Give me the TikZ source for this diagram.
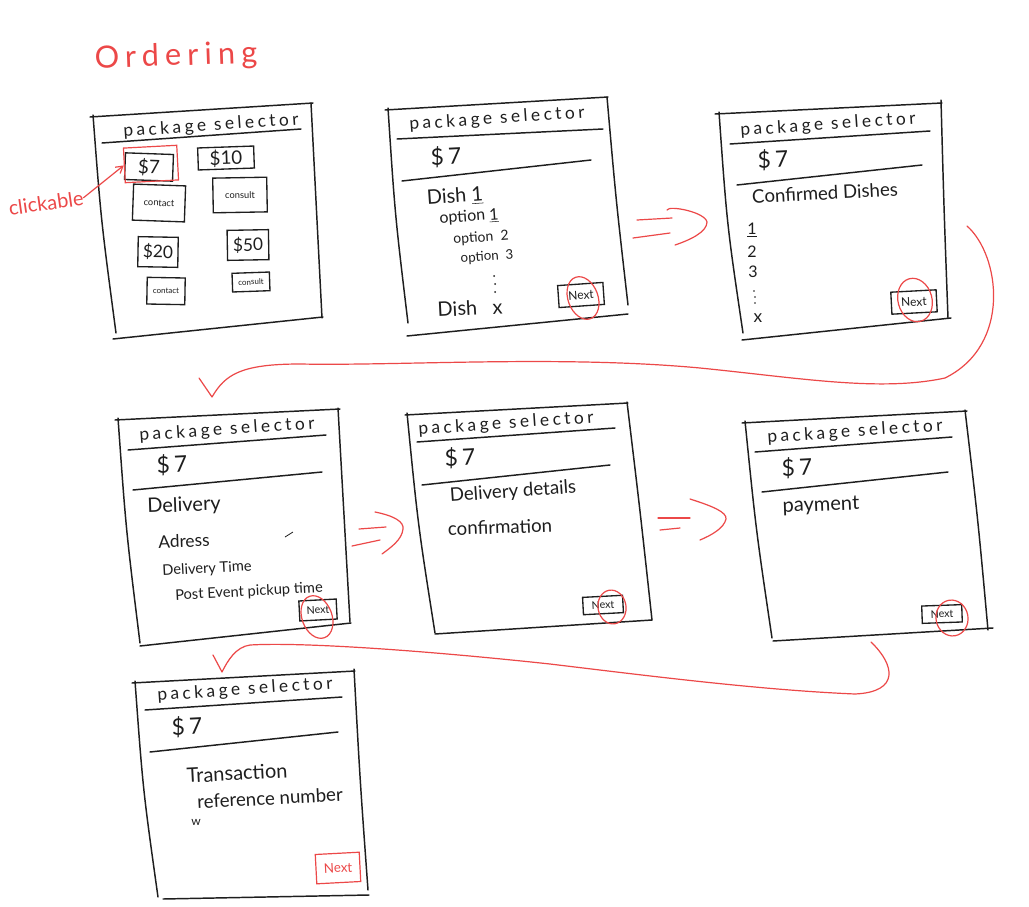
\documentclass[tikz,border=0pt]{standalone}
\usepackage{fontspec}
\setmainfont{Lato}
\newfontfamily\hand{Lato}
\newfontfamily\handsp[LetterSpace=20]{Lato}
\usetikzlibrary{arrows.meta}
\definecolor{hred}{RGB}{236,72,72}
\definecolor{ink}{RGB}{30,30,30}
\newcommand{\fs}[1]{\fontsize{#1}{#1}\selectfont}
\tikzset{
  pen/.style={draw=ink, line width=1.1pt, line cap=round, line join=round},
  rpen/.style={draw=hred, line width=0.9pt, line cap=round, line join=round},
  lbl/.style={inner sep=0pt, text=ink, font=\hand\fs{14}},
  hdr/.style={inner sep=0pt, text=ink, font=\handsp\fs{13}, rotate=4},
  price/.style={inner sep=0pt, text=ink, font=\handsp\fs{17}, rotate=3},
  btn/.style={draw=ink, line width=1pt, inner sep=0pt, text=ink},
  nextbtn/.style={btn, font=\hand\fs{9}},
  dotmark/.style={fill=ink},
}
\begin{document}
\begin{tikzpicture}[x=0.75pt,y=-0.75pt]
\fill[white] (0,0) rectangle (1029,907);
\useasboundingbox (0,0) rectangle (1029,907);

% title
\node[inner sep=0pt, text=hred, font=\handsp\fs{23}, rotate=2] (title) at (176,57) {Ordering};

% ---------- frame 1 ----------
\draw[pen] (90,117) -- (313,103);
\draw[pen] (93,115) .. controls (101,220) .. (116,333);
\draw[pen] (311,103) .. controls (316,210) .. (322,318);
\draw[pen] (113,339) -- (323,317);
\draw[pen] (102,143) -- (301,129);
\node[hdr] (h1) at (211,126) {package selector};
\node[btn, minimum width=36pt, minimum height=20pt, font=\hand\fs{14}, rotate=-2] (b7) at (149,167) {\$7};
\node[draw=hred, line width=0.9pt, inner sep=0pt, minimum width=40pt, minimum height=26pt, rotate=3] (r7) at (151,164) {};
\node[btn, minimum width=42pt, minimum height=16.5pt, font=\hand\fs{14}, rotate=2] (b10) at (226,158) {\$10};
\node[btn, minimum width=39pt, minimum height=27pt, font=\hand\fs{7}, rotate=-2] (bc1) at (159,203) {contact};
\node[btn, minimum width=40.5pt, minimum height=26pt, font=\hand\fs{7}, rotate=1] (bc2) at (240,195) {consult};
\node[btn, minimum width=30pt, minimum height=22.5pt, font=\hand\fs{13}, rotate=-1] (b20) at (158,252) {\$20};
\node[btn, minimum width=31pt, minimum height=22.5pt, font=\hand\fs{13}, rotate=1] (b50) at (248,245) {\$50};
\node[btn, minimum width=28.5pt, minimum height=20pt, font=\hand\fs{6}, rotate=-1] (bc3) at (166,291) {contact};
\node[btn, minimum width=28pt, minimum height=14pt, font=\hand\fs{6}, rotate=2] (bc4) at (251,282) {consult};
\node[inner sep=0pt, text=hred, font=\hand\fs{15}, rotate=8] (clk) at (46,203) {clickable};
\draw[rpen, -{Straight Barb[length=5pt,width=6pt]}] (clk.east) -- (r7.west);

% ---------- frame 2 ----------
\draw[pen] (385,110) -- (608,97);
\draw[pen] (388,108) .. controls (395,215) .. (408,323);
\draw[pen] (607,97) .. controls (616,200) .. (628,305);
\draw[pen] (407,336) -- (628,314);
\draw[pen] (397,139) -- (603,129);
\node[hdr] (h2) at (497,119) {package selector};
\node[price] (p2) at (446,157) {\$7};
\draw[pen] (402,181) -- (591,160);
\node[lbl, font=\hand\fs{15}, rotate=4] (d1) at (455,197) {Dish \underline{1}};
\node[lbl, font=\hand\fs{12}, rotate=4] (o1) at (469,217) {option \underline{1}};
\node[lbl, font=\hand\fs{10.5}, rotate=4] (o2) at (481,238) {option\ \ 2};
\node[lbl, font=\hand\fs{10}, rotate=4] (o3) at (487,257) {option\ \ 3};
\fill[dotmark] (494,276) circle (1) (495,284) circle (1) (495,292) circle (1);
\node[lbl, font=\hand\fs{15}, rotate=3] (dx) at (470,308) {Dish\ \ \ x};
\node[nextbtn, minimum width=34pt, minimum height=16.5pt, rotate=4] (n2) at (581,295) {Next};
\draw[rpen, rotate around={20:(583,298)}] (583,298) ellipse (15 and 22);

% arrow 2 -> 3
\draw[rpen] (637,220) -- (672,218);
\draw[rpen] (633,238) -- (670,233);
\draw[rpen] (667,210) .. controls (669,205) and (705,212) .. (707,222) .. controls (707,232) and (690,240) .. (675,245);

% ---------- frame 3 ----------
\draw[pen] (715,114) -- (942,103);
\draw[pen] (719,112) .. controls (727,225) .. (743,333);
\draw[pen] (941,100) .. controls (944,210) .. (948,318);
\draw[pen] (742,340) -- (951,318);
\draw[pen] (730,144) -- (930,131);
\node[hdr] (h3) at (828,125) {package selector};
\node[price] (p3) at (773,160) {\$7};
\draw[pen] (737,185) -- (922,165);
\node[lbl, font=\hand\fs{14}, rotate=3] (cd) at (825,193) {Confirmed Dishes};
\node[lbl, font=\hand\fs{12}] (c1) at (752,230) {\underline{1}};
\node[lbl, font=\hand\fs{12}] (c2) at (752,252) {2};
\node[lbl, font=\hand\fs{12}] (c3) at (753,272) {3};
\fill[dotmark] (754,291) circle (0.9) (755,297) circle (0.9) (755,303) circle (0.9);
\node[lbl, font=\hand\fs{13}] (cx) at (758,318) {x};
\node[nextbtn, minimum width=34pt, minimum height=16.5pt, rotate=3] (n3) at (914,302) {Next};
\draw[rpen, rotate around={15:(915,300)}] (915,300) ellipse (17 and 22);

% loop 3 -> 4
\coordinate (l3s) at (967,226);
\coordinate (l4t) at (212,397);
\coordinate (l4a) at (199,378);
\draw[rpen] (l3s) .. controls (1000,255) and (1012,345) .. (945,378)
  .. controls (880,392) and (800,378) .. (700,368)
  .. controls (560,355) and (400,366) .. (300,364)
  .. controls (240,364) and (225,375) .. (l4t) -- (l4a);

% ---------- frame 4 ----------
\draw[pen] (115,420) -- (340,409);
\draw[pen] (118,418) .. controls (126,530) .. (140,643);
\draw[pen] (338,408) .. controls (344,515) .. (350,622);
\draw[pen] (140,646) -- (351,623);
\draw[pen] (128,450) -- (326,435);
\node[hdr] (h4) at (227,430) {package selector};
\node[price] (p4) at (172,465) {\$7};
\draw[pen] (133,490) -- (322,472);
\node[lbl, font=\hand\fs{15}, rotate=2] (dl) at (184,506) {Delivery};
\node[lbl, font=\hand\fs{13}, rotate=2] (ad) at (184,541) {Adress};
\draw[draw=ink, line width=0.6pt] (285,537) -- (293,532);
\node[lbl, font=\hand\fs{11}, rotate=3] (dt) at (207,569) {Delivery Time};
\node[lbl, font=\hand\fs{11}, rotate=3] (pe) at (249,592) {Post Event pickup time};
\node[nextbtn, minimum width=28pt, minimum height=15pt, font=\hand\fs{8}, rotate=3] (n4) at (318,610) {Next};
\draw[rpen, rotate around={20:(317,617)}] (317,617) ellipse (15 and 22);

% arrow 4 -> 5
\draw[rpen] (359,529) -- (386,527);
\draw[rpen] (352,546) -- (380,540);
\draw[rpen] (375,512) .. controls (395,516) and (404,522) .. (403,529) .. controls (402,540) and (390,548) .. (382,554);

% ---------- frame 5 ----------
\draw[pen] (405,415) -- (628,403);
\draw[pen] (407,413) .. controls (418,525) .. (435,633);
\draw[pen] (627,402) .. controls (640,510) .. (652,620);
\draw[pen] (435,634) -- (652,620);
\draw[pen] (417,442) -- (615,428);
\node[hdr] (h5) at (506,424) {package selector};
\node[price] (p5) at (460,458) {\$7};
\draw[pen] (422,485) -- (610,465);
\node[lbl, font=\hand\fs{14}, rotate=4] (ddc) at (513,492) {Delivery details};
\node[lbl, font=\hand\fs{14}, rotate=2] (cf) at (500,527) {confirmation};
\node[nextbtn, minimum width=30pt, minimum height=13pt, font=\hand\fs{8}, rotate=3] (n5) at (603,605) {Next};
\draw[rpen, rotate around={10:(612,607)}] (612,607) ellipse (14 and 17);

% arrow 5 -> 6
\draw[rpen] (658,518) -- (690,518);
\draw[rpen] (660,530) -- (680,528);
\draw[rpen] (690,499) .. controls (712,506) and (727,512) .. (726,519) .. controls (724,528) and (712,535) .. (700,540);

% ---------- frame 6 ----------
\draw[pen] (742,423) -- (967,411);
\draw[pen] (745,421) .. controls (756,530) .. (772,638);
\draw[pen] (965,410) .. controls (978,520) .. (988,630);
\draw[pen] (773,641) -- (993,628);
\draw[pen] (755,452) -- (952,437);
\node[hdr] (h6) at (855,432) {package selector};
\node[price] (p6) at (797,468) {\$7};
\draw[pen] (762,492) -- (948,472);
\node[lbl, font=\hand\fs{15}, rotate=2] (pay) at (821,506) {payment};
\node[nextbtn, minimum width=30pt, minimum height=13pt, font=\hand\fs{8}, rotate=2] (n6) at (942,614) {Next};
\draw[rpen, rotate around={10:(952,618)}] (952,618) ellipse (16 and 18);

% loop 6 -> 7
\coordinate (l6s) at (871,642);
\coordinate (l7t) at (222,672);
\coordinate (l7a) at (213,655);
\draw[rpen] (l6s) .. controls (895,665) and (900,692) .. (855,694)
  .. controls (760,690) and (650,676) .. (550,664)
  .. controls (420,650) and (300,642) .. (250,645)
  .. controls (236,647) and (228,660) .. (l7t) -- (l7a);

% ---------- frame 7 ----------
\draw[pen] (132,683) -- (355,671);
\draw[pen] (135,681) .. controls (143,790) .. (158,897);
\draw[pen] (354,669) .. controls (360,780) .. (368,890);
\draw[pen] (163,899) -- (369,895);
\draw[pen] (145,710) -- (342,697);
\node[hdr] (h7) at (245,690) {package selector};
\node[price] (p7) at (187,727) {\$7};
\draw[pen] (150,752) -- (338,732);
\node[lbl, font=\hand\fs{15}, rotate=3] (tr) at (237,773) {Transaction};
\node[lbl, font=\hand\fs{14}, rotate=3] (rn) at (270,798) {reference number};
\node[lbl, font=\hand\fs{9}] (w) at (196,822) {w};
\node[draw=hred, line width=0.9pt, inner sep=0pt, text=hred, font=\hand\fs{10}, minimum width=33pt, minimum height=22pt, rotate=3] (n7) at (338,868) {Next};
\end{tikzpicture}
\end{document}
